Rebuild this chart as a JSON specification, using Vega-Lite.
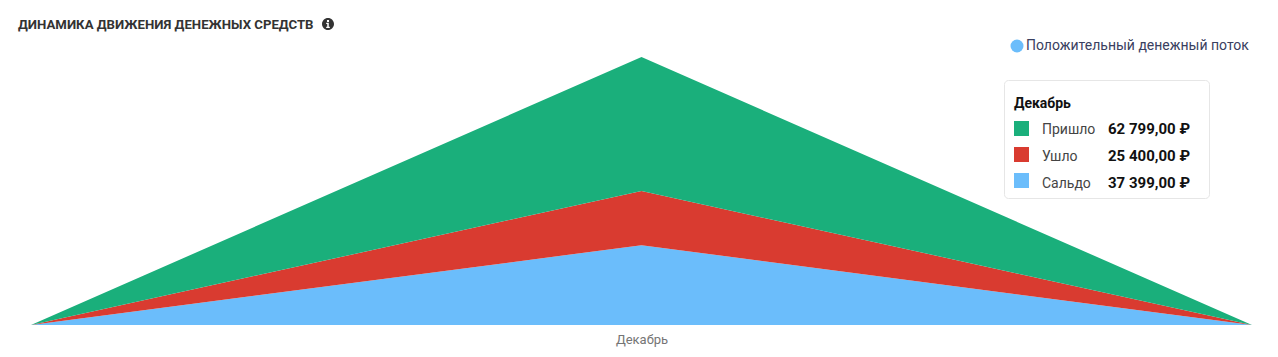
{
"$schema":"https://vega.github.io/schema/vega-lite/v6.json",
"width":1221,"height":268,
"autosize":"none",
"padding":{"left":31,"top":57,"right":26,"bottom":32},
"background":"white",
"config":{"view":{"stroke":null}},
"title":{"text":"ДИНАМИКА ДВИЖЕНИЯ ДЕНЕЖНЫХ СРЕДСТВ","anchor":"start","frame":"group","dx":-13,"offset":-14,"font":"Roboto","fontSize":13.2,"fontWeight":"bold","color":"#333333"},
"data":{"values":[
{"month":"start","series":"Сальдо","name":"Сальдо","rank":1,"amount":0},
{"month":"start","series":"Ушло","name":"Ушло","rank":2,"amount":0},
{"month":"start","series":"Пришло","name":"Пришло","rank":3,"amount":0},
{"month":"Декабрь","series":"Сальдо","name":"Сальдо","rank":1,"amount":37399,"text":"37 399,00 ₽"},
{"month":"Декабрь","series":"Ушло","name":"Ушло","rank":2,"amount":25400,"text":"25 400,00 ₽"},
{"month":"Декабрь","series":"Пришло","name":"Пришло","rank":3,"amount":62799,"text":"62 799,00 ₽"},
{"month":"end","series":"Сальдо","name":"Сальдо","rank":1,"amount":0},
{"month":"end","series":"Ушло","name":"Ушло","rank":2,"amount":0},
{"month":"end","series":"Пришло","name":"Пришло","rank":3,"amount":0}
]},
"encoding":{
"x":{"field":"month","type":"ordinal","sort":["start","Декабрь","end"],"scale":{"type":"point","padding":0},
"axis":{"title":null,"values":["Декабрь"],"domain":false,"ticks":false,"grid":false,"labelAngle":0,"labelFont":"Roboto","labelFontSize":13,"labelColor":"#757575","labelPadding":8}}
},
"layer":[
{"mark":{"type":"area","interpolate":"linear","line":false},
"encoding":{
"y":{"field":"amount","type":"quantitative","aggregate":"sum","stack":"zero","scale":{"domain":[0,125598],"nice":false},"axis":null},
"order":{"field":"rank","type":"ordinal"},
"fill":{"field":"series","type":"nominal","scale":{"domain":["Пришло","Ушло","Сальдо"],"range":["#1AAF7B","#D93B30","#6BBDFB"]},
"legend":{"orient":"none","legendX":973,"legendY":23,"zindex":1,"title":["","Декабрь"],"titleLineHeight":7,"titleFont":"Roboto","titleFontSize":14,"titleFontWeight":"bold","titleColor":"#111111","titlePadding":10,"padding":10,"fillColor":"white","strokeColor":"#e6e6e6","cornerRadius":4,"symbolType":"square","symbolSize":225,"symbolStrokeWidth":0,"labelExpr":"''","labelOffset":170,"rowPadding":11}}
}},
{"transform":[{"filter":"datum.month=='Декабрь'"}],
"mark":{"type":"point","size":0,"opacity":0},
"encoding":{
"stroke":{"field":"name","type":"nominal","sort":["Пришло","Ушло","Сальдо"],"scale":{"range":["transparent","transparent","transparent"]},
"legend":{"orient":"none","legendX":994,"legendY":64,"zindex":2,"title":null,"padding":0,"symbolSize":225,"symbolOpacity":0,"labelFont":"Roboto","labelFontSize":14,"labelColor":"#444444","labelOffset":0,"rowPadding":11,"symbolType":"square"}},
"strokeDash":{"field":"text","type":"nominal","scale":{"domain":["62 799,00 ₽","25 400,00 ₽","37 399,00 ₽"],"range":[[1,1],[2,2],[3,3]]},
"legend":{"orient":"none","legendX":1062,"legendY":64,"zindex":2,"title":null,"padding":0,"symbolSize":225,"symbolOpacity":0,"symbolStrokeWidth":0,"labelFont":"Roboto","labelFontSize":15,"labelFontWeight":"bold","labelColor":"#111111","labelOffset":0,"rowPadding":11,"symbolType":"square"}}
}},
{"transform":[{"filter":"datum.month=='Декабрь' && datum.rank==1"}],
"mark":{"type":"point","size":0,"opacity":0,"filled":true,"color":"#6BBDFB"},
"encoding":{
"shape":{"datum":"Положительный денежный поток","scale":{"range":["circle"]},
"legend":{"orient":"none","legendX":979,"legendY":-18,"title":null,"padding":0,"symbolType":"circle","symbolSize":169,"symbolFillColor":"#6BBDFB","symbolStrokeWidth":0,"symbolOpacity":1,"labelFont":"Roboto","labelFontSize":14,"labelColor":"#3a4060","labelOffset":2,"labelLimit":300}}
}},
{"transform":[{"filter":"datum.month=='Декабрь' && datum.rank==1"}],
"mark":{"type":"point","size":0,"filled":true,"color":"#333333"},
"encoding":{
"opacity":{"datum":"info","scale":{"range":[0]},
"legend":{"orient":"none","legendX":291,"legendY":-39,"title":null,"padding":0,"symbolType":"M0,-1A1,1,0,1,1,0,1A1,1,0,1,1,0,-1ZM-0.17,-0.68V-0.35H0.17V-0.68ZM-0.3,-0.2V0H-0.13V0.45H-0.3V0.65H0.3V0.45H0.13V-0.2Z","symbolSize":144,"symbolFillColor":"#333333","symbolStrokeWidth":0,"symbolOpacity":1,"labelExpr":"''"}}
}}
]
}
